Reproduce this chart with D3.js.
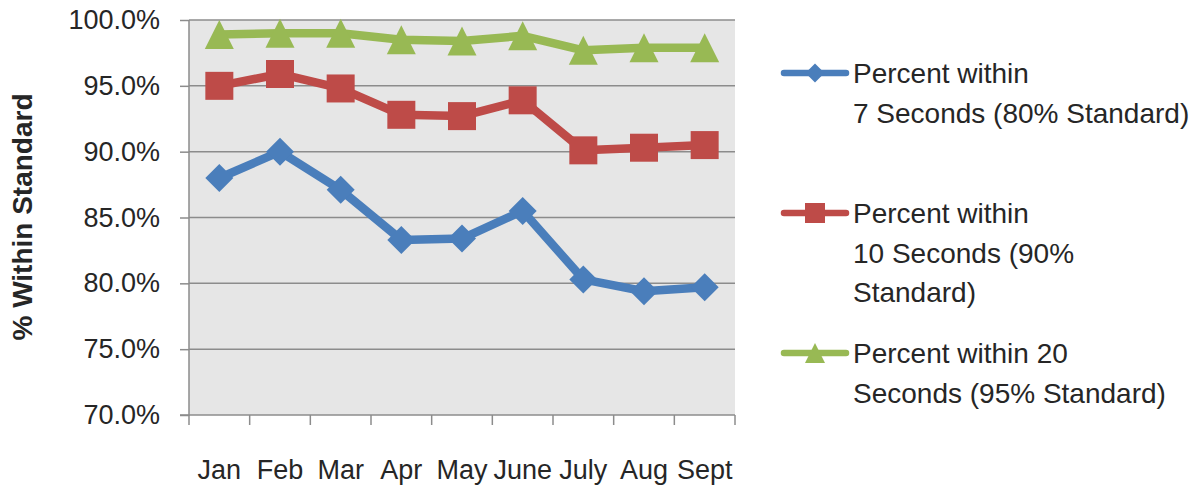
<!DOCTYPE html>
<html><head><meta charset="utf-8">
<script src="https://cdn.jsdelivr.net/npm/d3@7"></script>
<style>body{margin:0;background:#fff}svg{display:block}text{font-family:"Liberation Sans",Arial,sans-serif;fill:#262626}</style>
</head><body><svg id="c" width="1201" height="489"></svg>
<script>
const months = ["Jan","Feb","Mar","Apr","May","June","July","Aug","Sept"];
const within7 = [88.0, 90.0, 87.1, 83.3, 83.4, 85.5, 80.3, 79.4, 79.7];
const within10 = [95.0, 95.9, 94.8, 92.8, 92.7, 93.9, 90.1, 90.3, 90.5];
const within20 = [98.9, 99.0, 99.0, 98.5, 98.4, 98.8, 97.7, 97.9, 97.9];
const seriesNames = [["Percent within","7 Seconds (80% Standard)"],["Percent within","10 Seconds (90%","Standard)"],["Percent within 20","Seconds (95% Standard)"]];
const yTicks = [70,75,80,85,90,95,100];

const svg = d3.select("#c");
const L=189, R=735, T=20, B=415;
const x = d3.scaleBand().domain(months).range([L,R]);
const y = d3.scaleLinear().domain([70,100]).range([B,T]);
const colors=["#4A7EBB","#BE4B48","#98B954"];

// custom marker shapes (half-size r)
const diamond = r => `M0,${-r}L${r},0L0,${r}L${-r},0Z`;
const square = r => `M${-r},${-r}H${r}V${r}H${-r}Z`;
const triangle = r => `M0,${-r}L${r},${r}H${-r}Z`;
const shapes=[diamond, square, triangle];
const markR=[14,14,14.5];
const legR=[9.5,10,10];

svg.append("rect").attr("x",L).attr("y",T).attr("width",R-L).attr("height",B-T).attr("fill","#E6E6E6");
svg.append("g").selectAll("line").data(yTicks.filter(d=>d>70)).join("line")
  .attr("x1",L).attr("x2",R).attr("y1",d=>y(d)).attr("y2",d=>y(d)).attr("stroke","#8c8c8c").attr("stroke-width",1.5);

const ya = svg.append("g").attr("transform",`translate(${L},0)`).call(d3.axisLeft(y).tickValues(yTicks).tickSize(9).tickPadding(20).tickFormat(d=>d3.format(".1f")(d)+"%"));
ya.selectAll("text").style("font-size","27px").attr("fill","#262626");
ya.selectAll("line,path").attr("stroke","#8c8c8c").attr("stroke-width",1.5);
ya.select("path").attr("d",`M${-9},${B}H0V${T}`);

const xa = svg.append("g").attr("transform",`translate(0,${B})`).call(d3.axisBottom(x).tickSize(0));
xa.selectAll("text").style("font-size","27px").attr("fill","#262626").attr("y",479-B).attr("dy",0);
xa.select("path").attr("stroke","#8c8c8c").attr("stroke-width",1.5).attr("d",`M${L},0H${R}`);
xa.append("g").selectAll("line").data(months.map(m=>x(m)).concat([R])).join("line")
  .attr("x1",d=>d).attr("x2",d=>d).attr("y1",0).attr("y2",10).attr("stroke","#8c8c8c").attr("stroke-width",1.5);

svg.append("text").attr("transform","translate(32,217) rotate(-90)").attr("text-anchor","middle")
  .style("font-size","28px").style("font-weight","bold").text("% Within Standard");

const data=[within7,within10,within20];
const line=d3.line().x((d,i)=>x(months[i])+x.bandwidth()/2).y(d=>y(d));
data.forEach((s,k)=>{
  svg.append("path").attr("d",line(s)).attr("fill","none").attr("stroke",colors[k]).attr("stroke-width",8.5).attr("stroke-linejoin","round");
  svg.append("g").selectAll("path").data(s).join("path")
    .attr("transform",(d,i)=>`translate(${x(months[i])+x.bandwidth()/2},${y(d)})`)
    .attr("d",shapes[k](markR[k])).attr("fill",colors[k]);
});

const legY=[73,213,353];
seriesNames.forEach((lines,k)=>{
  const g=svg.append("g").attr("transform",`translate(0,${legY[k]})`);
  g.append("line").attr("x1",784).attr("x2",846).attr("stroke",colors[k]).attr("stroke-width",6.5).attr("stroke-linecap","round");
  g.append("path").attr("transform","translate(815,0)").attr("d",shapes[k](legR[k])).attr("fill",colors[k]);
  lines.forEach((t,j)=>g.append("text").attr("x",853).attr("y",j*39.5+10).style("font-size","28px").text(t));
});
</script></body></html>
